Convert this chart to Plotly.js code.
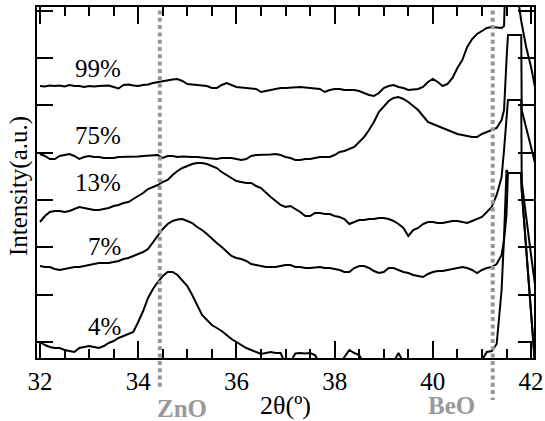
<!DOCTYPE html>
<html>
<head>
<meta charset="utf-8">
<script src="https://cdn.plot.ly/plotly-3.0.1.min.js"></script>
<style>html,body{margin:0;padding:0;background:#fff;}#chart{width:545px;height:421px;}</style>
</head>
<body>
<div id="chart"></div>
<script>
// 2θ positions (degrees) of the read-off points
const twoTheta = [
  32.0,32.1,32.2,32.3,32.4,32.5,32.6,32.7,32.8,32.9,
  33.0,33.1,33.2,33.3,33.4,33.5,33.6,33.7,33.8,33.9,
  34.0,34.1,34.2,34.3,34.4,34.5,34.6,34.7,34.8,34.9,
  35.0,35.1,35.2,35.3,35.4,35.5,35.6,35.7,35.8,35.9,
  36.0,36.1,36.2,36.3,36.4,36.5,36.6,36.7,36.8,36.9,
  37.0,37.1,37.2,37.3,37.4,37.5,37.6,37.7,37.8,37.9,
  38.0,38.1,38.2,38.3,38.4,38.5,38.6,38.7,38.8,38.9,
  39.0,39.1,39.2,39.3,39.4,39.5,39.6,39.7,39.8,39.9,
  40.0,40.1,40.2,40.3,40.4,40.5,40.6,40.7,40.8,40.9,
  41.0,41.1,41.2,41.3,41.4
];
// stacked intensities (a.u., with offsets as drawn)
const i99 = [
  256,255.5,256.5,256,256.5,255.5,257,256,256,255,
  256,255.5,256,256,256.5,255,253.5,257,257.5,256.5,
  256,257,257.5,259,260,260.5,261.5,262.5,263,261,
  258,257.5,257,257,256,254,254,257,259,257,
  255,254.5,254,254,253,250,251,252,253,254,
  254,254.5,255,255,254.5,254,254,253,250,252,
  253,253,252,252,252,251,249,247,246,249,
  254,256,257,255,254,252,252.5,253,255,260,
  263,260,256,258,264,274,282,295,303,308,
  311,314,315,314.5,314
];
const i75 = [
  188,186,183,183,186,187,188,186,183,185,
  186,185,185,184,184,184,185,185,185,185,
  185.5,186,186.5,187,187,184,186,186,185,185.5,
  185,185,185,184.5,184,183,183,184,184,184,
  183,182,183,186,187,187,187,187.5,188,187,
  185,184,182,182,183,183,184,185,185,185,
  187,190,191,193,195,200,205,212,220,230,
  236,241,244,245,243,240,236,232,226,220,
  218,216,214,212,210,208,207,206,205,205,
  208,210,212,214,222
];
const i13 = [
  120,126,130,131,131,130,131,133,135,134,
  133,132,132,133,134,136,137,139,140,143,
  146,149,153,155,157,160,162,167,171,174,
  176,178,179,179,178,176,174,170,167,164,
  161,160,159,159,156,154,149,145,141,137,
  135,136,133,130,126,126,129,129,128,128,
  126,125,123,118,120,122,122,123,123,124,
  124,123,121,118,114,106,112,114,118,120,
  120,119,119,120,121,121,120,119,121,123,
  125,130,135,147,165
];
const i7 = [
  76,75,75,73,72,73,74,75,75,76,
  77,78,79,79,79,80,81,83,84,86,
  88,90,93,100,107,113,118,121,122.5,123,
  121,119,115,112,108,103,99,95,90,86,
  84,83,81,78,77,76,75,75,75,76,
  77,77,75,75,74,74,74.5,75,74,74,
  73,72,70,70,74,76,76,74,71,69,
  70,74,74,72,70,69,67,66,65,68,
  70,71,71,72,73,74,75,74,72,69,
  72,74,75,78,87
];
const i4 = [
  0,-3,-5,-6,-6,-8,-9,-10,-6,-5,
  -4,-5,-6,-4,-1,1,4,6,8,10,
  20,31,44,53,60,66,70,70,67,62,
  56,47,37,27,22,17,14,11,7,3,
  0,-3,-6,-8,-10,-12,-11,-10,-11,-11,
  -22,-20,-11.5,-11,-11.5,-11,-13,-22,-20,-24,
  -21,-22,-15,-8,-11,-13,-22,-21,-22,-20,
  -23,-21,-20,-11,-20,-22,-24,-20,-23,-21,
  -22,-24,-20,-23,-22,-24,-21,-22,-20,-21,
  -18,-10,-9,-2,52
];
// BeO substrate reflection region (peaks run off scale)
const tail99X = [41.45,41.5,41.6,41.7,41.76,41.8,41.9,42.0,42.1];
const tail99Y = [316,400,420,420,335,321,295,275,250];
const tail75X = [41.45,41.5,41.53,41.8,41.81,42.0,42.1];
const tail75Y = [232,282,307,307,232,195,175];
const tail13X = [41.45,41.5,41.53,41.8,41.81,42.0,42.1];
const tail13Y = [192,222,242,242,160,87,50];
const tail7X = [41.45,41.5,41.53,41.8,41.81,42.0,42.1];
const tail7Y = [102,127,169,169,152,30,-35];
const tail4X = [41.45,41.5,41.53,41.8,41.81,42.0,42.1];
const tail4Y = [105,172,169,169,152,30,-35];

const labels = ['99%','75%','13%','7%','4%'];
const labelY = [0.826,0.635,0.499,0.319,0.091];
const refLines = [{name:'ZnO', pos:34.44}, {name:'BeO', pos:41.22}];
const xTickVals = [32,34,36,38,40,42];

const series = [
  [i99, tail99X, tail99Y],
  [i75, tail75X, tail75Y],
  [i13, tail13X, tail13Y],
  [i7, tail7X, tail7Y],
  [i4, tail4X, tail4Y]
];
const traces = series.map(s => ({
  type: 'scatter', mode: 'lines',
  x: twoTheta.concat(s[1]), y: s[0].concat(s[2]),
  line: {color: '#000', width: 2}, hoverinfo: 'skip'
}));

const FONT = 'Liberation Serif, Times New Roman, serif';
const annotations = labels.map((t, k) => ({
  text: t, xref: 'paper', yref: 'paper', x: 0.174, y: labelY[k],
  xanchor: 'right', yanchor: 'middle', showarrow: false,
  font: {family: FONT, size: 25, color: '#000'}
}));
annotations.push({text: '<b>ZnO</b>', xref: 'paper', yref: 'paper', x: 0.2918, y: -0.1425,
  xanchor: 'center', yanchor: 'middle', showarrow: false, font: {family: FONT, size: 25, color: '#999999'}});
annotations.push({text: '<b>BeO</b>', xref: 'paper', yref: 'paper', x: 0.833, y: -0.134,
  xanchor: 'center', yanchor: 'middle', showarrow: false, font: {family: FONT, size: 25, color: '#999999'}});
// y-axis title
annotations.push({text: 'Intensity(a.u.)', xref: 'paper', yref: 'paper', x: -0.036, y: 0.49,
  xanchor: 'center', yanchor: 'middle', textangle: -90, showarrow: false,
  font: {family: FONT, size: 25, color: '#000'}});

const shapes = [
  {type: 'line', xref: 'x', yref: 'paper', x0: refLines[0].pos, x1: refLines[0].pos, y0: 0.99, y1: -0.0855,
   line: {color: '#969696', width: 4, dash: '4px,3.3px'}, layer: 'above'},
  {type: 'line', xref: 'x', yref: 'paper', x0: refLines[1].pos, x1: refLines[1].pos, y0: 0.99, y1: -0.1197,
   line: {color: '#969696', width: 4, dash: '4px,3.3px'}, layer: 'above'}
];

const layout = {
  width: 545, height: 421,
  margin: {l: 37, r: 11, t: 7, b: 63, pad: 0},
  paper_bgcolor: '#fff', plot_bgcolor: '#fff',
  showlegend: false,
  font: {family: FONT, size: 25, color: '#000'},
  xaxis: {
    range: [31.939, 42.06], tickmode: 'array', tickvals: xTickVals, ticktext: xTickVals.map(String),
    ticks: 'inside', ticklen: 17, tickwidth: 2, tickcolor: '#000',
    showline: true, linewidth: 2, linecolor: '#000', mirror: 'ticks',
    showgrid: false, zeroline: false,
    minor: {dtick: 0.5, tick0: 32, ticks: 'inside', ticklen: 9, tickwidth: 2, tickcolor: '#000', showgrid: false},
    tickfont: {family: FONT, size: 25, color: '#000'},
    title: {text: '2θ(º)', font: {family: FONT, size: 26, color: '#000'}, standoff: 2}
  },
  yaxis: {
    range: [-16, 335], tick0: 0, dtick: 47.33,
    ticks: 'inside', ticklen: 16, tickwidth: 2, tickcolor: '#000',
    showline: true, linewidth: 2, linecolor: '#000', mirror: 'ticks',
    showgrid: false, zeroline: false, showticklabels: false
  },
  annotations: annotations,
  shapes: shapes
};

Plotly.newPlot('chart', traces, layout, {staticPlot: true, displayModeBar: false});
</script>
</body>
</html>
